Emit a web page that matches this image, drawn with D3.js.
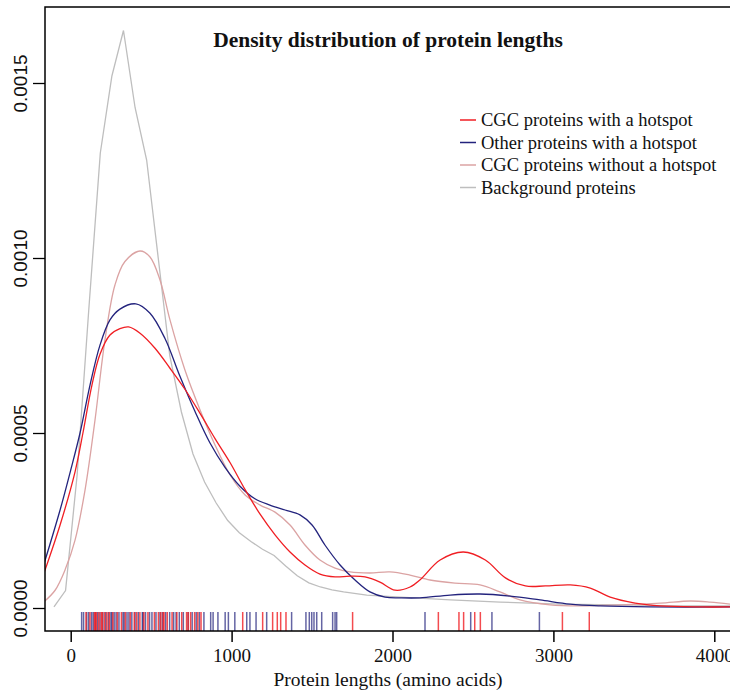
<!DOCTYPE html>
<html>
<head>
<meta charset="utf-8">
<script src="https://cdn.jsdelivr.net/npm/d3@7"></script>
<style>
  body { margin: 0; background: #fff; }
  svg { display: block; }
</style>
</head>
<body>
<div id="chart"></div>
<script>
const w = 730
const h = 691

// --- Data ---

const seriesNames = [ "CGC proteins with a hotspot", "Other proteins with a hotspot", "CGC proteins without a hotspot", "Background proteins" ]

// density curves, [protein length, density]
const cgcHotspot = [
  [-166, 0.000100], [-66, 0.000237], [27, 0.000389], [76, 0.000500], [132, 0.000637],
  [182, 0.000725], [244, 0.000780], [306, 0.000798], [360, 0.000803], [431, 0.000785],
  [524, 0.000742], [617, 0.000685], [710, 0.000625], [804, 0.000556], [897, 0.000484],
  [991, 0.000415], [1084, 0.000338], [1177, 0.000268], [1270, 0.000209], [1363, 0.000160],
  [1456, 0.000123], [1549, 0.000097], [1643, 0.000089], [1736, 0.000091], [1829, 0.000089],
  [1922, 0.000074], [2016, 0.000051], [2109, 0.000060], [2170, 0.000080], [2296, 0.000137],
  [2440, 0.000160], [2577, 0.000137], [2702, 0.000086], [2826, 0.000063], [2950, 0.000063],
  [3105, 0.000066], [3229, 0.000057], [3353, 0.000031], [3508, 0.000014], [3664, 0.000006],
  [3913, 0.000003], [4100, 0.000003]
]

const otherHotspot = [
  [-166, 0.000126], [-66, 0.000280], [0, 0.000394], [58, 0.000500], [120, 0.000637],
  [182, 0.000751], [244, 0.000823], [306, 0.000854], [405, 0.000869], [493, 0.000842],
  [586, 0.000770], [679, 0.000662], [772, 0.000562], [865, 0.000472], [959, 0.000402],
  [1052, 0.000348], [1145, 0.000312], [1238, 0.000294], [1332, 0.000280], [1425, 0.000266],
  [1500, 0.000237], [1580, 0.000180], [1674, 0.000123], [1767, 0.000080], [1860, 0.000046],
  [1954, 0.000031], [2047, 0.000029], [2170, 0.000029], [2358, 0.000037], [2544, 0.000040],
  [2731, 0.000034], [2917, 0.000023], [3104, 0.000011], [3290, 0.000006], [3601, 0.000003],
  [4100, 0.000003]
]

const cgcNoHotspot = [
  [-166, 0.000018], [-98, 0.000050], [-35, 0.000109], [27, 0.000194], [89, 0.000337],
  [151, 0.000537], [213, 0.000766], [275, 0.000923], [337, 0.000990], [431, 0.001020],
  [493, 0.001003], [555, 0.000937], [617, 0.000823], [710, 0.000680], [804, 0.000566],
  [897, 0.000466], [991, 0.000380], [1084, 0.000323], [1177, 0.000294], [1270, 0.000274],
  [1363, 0.000237], [1456, 0.000180], [1549, 0.000137], [1643, 0.000114], [1736, 0.000103],
  [1860, 0.000100], [1984, 0.000103], [2109, 0.000094], [2233, 0.000080], [2388, 0.000071],
  [2544, 0.000066], [2668, 0.000046], [2793, 0.000023], [2979, 0.000009], [3166, 0.000006],
  [3415, 0.000009], [3664, 0.000014], [3850, 0.000020], [3975, 0.000017], [4100, 0.000011]
]

const background = [
  [-104, 0.000003], [-32, 0.000050], [40, 0.000380], [112, 0.000850], [184, 0.001300],
  [256, 0.001520], [328, 0.001650], [400, 0.001430], [472, 0.001280], [544, 0.001000],
  [616, 0.000720], [688, 0.000560], [760, 0.000440], [832, 0.000360], [904, 0.000300],
  [976, 0.000250], [1048, 0.000215], [1120, 0.000190], [1192, 0.000168], [1264, 0.000150],
  [1336, 0.000120], [1408, 0.000092], [1480, 0.000072], [1552, 0.000060], [1624, 0.000052],
  [1696, 0.000046], [1840, 0.000037], [2050, 0.000031], [2360, 0.000023], [2670, 0.000017],
  [3040, 0.000011], [3415, 0.000009], [3790, 0.000006], [4100, 0.000006]
]

// rug: individual protein lengths
const cgcRug = [ 95, 120, 148, 152, 160, 175, 190, 196, 210, 225, 240, 262, 290, 315, 340, 370,
  395, 410, 430, 455, 480, 520, 545, 560, 575, 580, 600, 630, 660, 690, 720, 730, 745, 770,
  790, 810, 1069, 1193, 1255, 1284, 1305, 1338, 1752, 2285, 2413, 2442, 2511, 2546, 3056, 3223 ]

const otherRug = [ 68, 80, 100, 112, 130, 140, 155, 168, 182, 200, 218, 235, 250, 256, 270, 282,
  300, 325, 332, 350, 362, 380, 400, 420, 445, 450, 465, 490, 505, 530, 555, 570, 590, 615, 640,
  655, 675, 700, 730, 755, 780, 800, 828, 870, 885, 915, 960, 980, 1020, 1094, 1114, 1152, 1218,
  1373, 1462, 1483, 1498, 1512, 1529, 1560, 1628, 1643, 1653, 2202, 2486, 2618, 2913 ]

const xTicks = [ 0, 1000, 2000, 3000, 4000 ]
const yTicks = [ 0, 0.0005, 0.0010, 0.0015 ]

// --- Setup ---

const colors = [ "#f01e23", "#23237d", "#dba3a3", "#bebebe" ]
const serif = "'Liberation Serif', 'DejaVu Serif', serif"

const svg = d3.select("#chart")
              .append("svg")
                .attr("width", w)
                .attr("height", h)

const plotLeft = 45
const plotTop = 7
const plotBottom = 631

const xScale = d3.scaleLinear()
                 .domain([0, 4000])
                 .range([70.7, 714.3])

const yScale = d3.scaleLinear()
                 .domain([0, 0.0015])
                 .range([608, 83])

svg.append("clipPath")
     .attr("id", "plot-clip")
   .append("rect")
     .attr("x", plotLeft)
     .attr("y", plotTop)
     .attr("width", w - plotLeft)
     .attr("height", plotBottom - plotTop)

// --- Curves ---

const smooth = d3.line()
                 .x(d => xScale(d[0]))
                 .y(d => yScale(d[1]))
                 .curve(d3.curveCatmullRom.alpha(0.5))

const straight = d3.line()
                   .x(d => xScale(d[0]))
                   .y(d => yScale(d[1]))

const plot = svg.append("g").attr("clip-path", "url(#plot-clip)")

plot.append("path").datum(background)
    .attr("d", straight).attr("fill", "none")
    .attr("stroke", colors[3]).attr("stroke-width", 1.3)

plot.append("path").datum(cgcNoHotspot)
    .attr("d", smooth).attr("fill", "none")
    .attr("stroke", colors[2]).attr("stroke-width", 1.3)

plot.append("path").datum(otherHotspot)
    .attr("d", smooth).attr("fill", "none")
    .attr("stroke", colors[1]).attr("stroke-width", 1.3)

plot.append("path").datum(cgcHotspot)
    .attr("d", smooth).attr("fill", "none")
    .attr("stroke", colors[0]).attr("stroke-width", 1.3)

// rug, semi transparent so overlaps look darker
const rugTop = plotBottom - 19

plot.selectAll(".rug-other")
    .data(otherRug)
    .join("line")
      .attr("x1", d => xScale(d)).attr("x2", d => xScale(d))
      .attr("y1", rugTop).attr("y2", plotBottom)
      .attr("stroke", colors[1]).attr("stroke-opacity", 0.7).attr("stroke-width", 1.5)

plot.selectAll(".rug-cgc")
    .data(cgcRug)
    .join("line")
      .attr("x1", d => xScale(d)).attr("x2", d => xScale(d))
      .attr("y1", rugTop).attr("y2", plotBottom)
      .attr("stroke", colors[0]).attr("stroke-opacity", 0.8).attr("stroke-width", 1.5)

// --- Box and axes ---

svg.append("path")
   .attr("d", `M${w + 5},${plotTop} H${plotLeft} V${plotBottom} H${w + 5}`)
   .attr("fill", "none").attr("stroke", "#000").attr("stroke-width", 1.5)

const xAxis = svg.append("g")
                 .attr("transform", `translate(0, ${plotBottom})`)
                 .call(d3.axisBottom(xScale).tickValues(xTicks).tickSize(11).tickSizeOuter(0).tickPadding(7).tickFormat(d3.format("d")))
xAxis.select(".domain").remove()
xAxis.selectAll("line").attr("stroke-width", 1.5)
xAxis.selectAll("text").attr("font-family", serif).attr("font-size", 19).attr("fill", "#111")

const yAxis = svg.append("g")
                 .attr("transform", `translate(${plotLeft}, 0)`)
                 .call(d3.axisLeft(yScale).tickValues(yTicks).tickSize(12).tickSizeOuter(0).tickFormat(d3.format(".4f")))
yAxis.select(".domain").remove()
yAxis.selectAll("line").attr("stroke-width", 1.3)
yAxis.selectAll("text")
     .attr("font-family", "'Liberation Sans', Arial, sans-serif")
     .attr("font-size", 19)
     .attr("fill", "#111")
     .attr("x", null).attr("dy", null)
     .attr("text-anchor", "middle")
     .attr("transform", "translate(-23, 0) rotate(-90)")
     .attr("y", 0)
     .attr("dominant-baseline", "middle")

svg.append("text")
   .attr("x", 388).attr("y", 686)
   .attr("text-anchor", "middle")
   .attr("font-family", serif).attr("font-size", 19.5).attr("fill", "#111")
   .text("Protein lengths (amino acids)")

// --- Title ---

svg.append("text")
   .attr("x", 388).attr("y", 47)
   .attr("text-anchor", "middle")
   .attr("font-family", serif).attr("font-size", 21.5).attr("font-weight", "bold").attr("fill", "#111")
   .text("Density distribution of protein lengths")

// --- Legend ---

const legend = svg.append("g").attr("transform", "translate(460, 120)")

seriesNames.forEach((name, i) => {
  legend.append("line")
        .attr("x1", 0).attr("x2", 16)
        .attr("y1", i * 22.5).attr("y2", i * 22.5)
        .attr("stroke", colors[i]).attr("stroke-width", 1.5)
  legend.append("text")
        .attr("x", 21).attr("y", i * 22.5 + 6)
        .attr("font-family", serif).attr("font-size", 18.5).attr("fill", "#111")
        .text(name)
})
</script>
</body>
</html>
